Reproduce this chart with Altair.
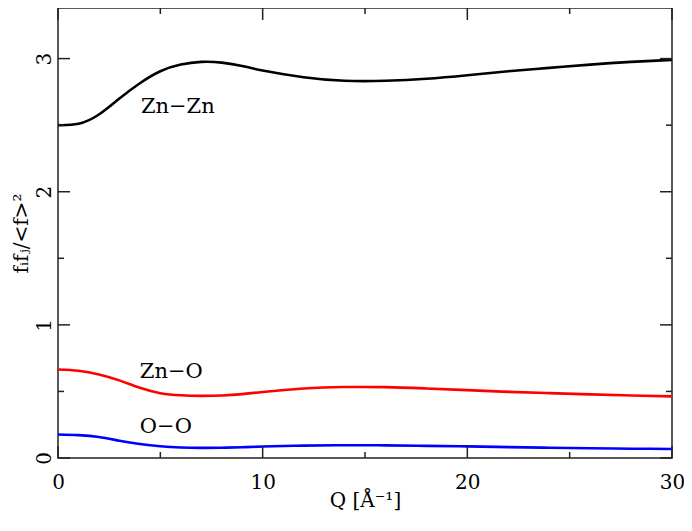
import altair as alt
import pandas as pd

# ---- data ----
q_values = [0, 1, 2, 3, 4, 5, 6, 7, 8, 9, 10, 12, 14, 16, 18, 20, 22, 24, 26, 28, 30]
zn_zn = [2.50, 2.51, 2.58, 2.70, 2.815, 2.905, 2.955, 2.975, 2.97, 2.945, 2.91,
         2.86, 2.833, 2.833, 2.848, 2.875, 2.905, 2.93, 2.955, 2.975, 2.99]
zn_o = [0.665, 0.655, 0.628, 0.583, 0.527, 0.487, 0.471, 0.467, 0.47, 0.48, 0.496,
        0.522, 0.533, 0.532, 0.522, 0.51, 0.497, 0.487, 0.478, 0.47, 0.463]
o_o = [0.177, 0.172, 0.158, 0.13, 0.105, 0.088, 0.079, 0.076, 0.077, 0.081, 0.086,
       0.093, 0.096, 0.095, 0.091, 0.087, 0.082, 0.077, 0.073, 0.07, 0.068]

pairs = ["Zn−Zn", "Zn−O", "O−O"]
colors = ["#000000", "#ff0000", "#0000ff"]

label_text = ["Zn−Zn", "Zn−O", "O−O"]
label_q = [4.05, 4.0, 4.0]
label_v = [2.64, 0.645, 0.236]

x_major = [0, 10, 20, 30]
x_minor = [5, 15, 25]
y_major = [0, 1, 2, 3]
y_minor = [0.5, 1.5, 2.5]

W, H = 614, 450
FONT = "DejaVu Serif"
X_TITLE = "Q [Å⁻¹]"
Y_TITLE = "fᵢfⱼ/<f>²"

rows = []
for name, vals in zip(pairs, [zn_zn, zn_o, o_o]):
    for q, v in zip(q_values, vals):
        rows.append({"Q": q, "v": v, "pair": name})
df = pd.DataFrame(rows)

xscale = alt.Scale(domain=[0, 30], nice=False, zero=False)
yscale = alt.Scale(domain=[0, 3.38], nice=False, zero=False)

xaxis = alt.Axis(values=x_major, grid=False, ticks=False, tickSize=0, domain=False,
                 labelFlush=False,
                 labelFont=FONT, labelFontSize=20, labelColor="black",
                 labelPadding=14, titleFont=FONT, titleFontSize=20,
                 titleFontWeight="normal", titleColor="black", titlePadding=-2)
yaxis = alt.Axis(values=y_major, grid=False, ticks=False, tickSize=0, domain=False,
                 labelFlush=False,
                 labelFont=FONT, labelFontSize=20, labelColor="black",
                 labelAngle=270, labelAlign="center", labelBaseline="bottom",
                 labelPadding=4, titleFont=FONT, titleFontSize=20,
                 titleFontWeight="normal", titleColor="black", titlePadding=3)


def X(field):
    return alt.X(field, scale=xscale, title=X_TITLE, axis=xaxis)


def Y(field):
    return alt.Y(field, scale=yscale, title=Y_TITLE, axis=yaxis)


lines = alt.Chart(df).mark_line(strokeWidth=2.6, interpolate="natural").encode(
    x=X("Q:Q"),
    y=Y("v:Q"),
    color=alt.Color("pair:N", scale=alt.Scale(domain=pairs, range=colors), legend=None),
)

labels_df = pd.DataFrame({"label": label_text, "Q": label_q, "v": label_v})
labels = alt.Chart(labels_df).mark_text(
    align="left", baseline="middle", font=FONT, fontSize=21, color="black"
).encode(
    x=X("Q:Q"),
    y=Y("v:Q"),
    text="label:N",
)

tick_layers = []
for vals, ln in [(x_major, 12), (x_minor, 6)]:
    tdf = pd.DataFrame({"Q": vals})
    base = alt.Chart(tdf).mark_rule(color="#222", strokeWidth=1.5)
    tick_layers.append(base.encode(x=X("Q:Q"), y=alt.value(H), y2=alt.value(H - ln)))
    tick_layers.append(base.encode(x=X("Q:Q"), y=alt.value(0), y2=alt.value(ln)))
for vals, ln in [(y_major, 12), (y_minor, 6)]:
    tdf = pd.DataFrame({"v": vals})
    base = alt.Chart(tdf).mark_rule(color="#222", strokeWidth=1.5)
    tick_layers.append(base.encode(y=Y("v:Q"), x=alt.value(0), x2=alt.value(ln)))
    tick_layers.append(base.encode(y=Y("v:Q"), x=alt.value(W), x2=alt.value(W - ln)))

chart = alt.layer(lines, labels, *tick_layers).properties(
    width=W, height=H,
    background="white",
    autosize=alt.AutoSizeParams(type="none"),
    padding={"left": 50, "top": 0, "right": 12, "bottom": 59},
).configure_view(stroke="#222", strokeWidth=1.5)

chart.save("out.html", embed_options={"renderer": "svg", "actions": False})
